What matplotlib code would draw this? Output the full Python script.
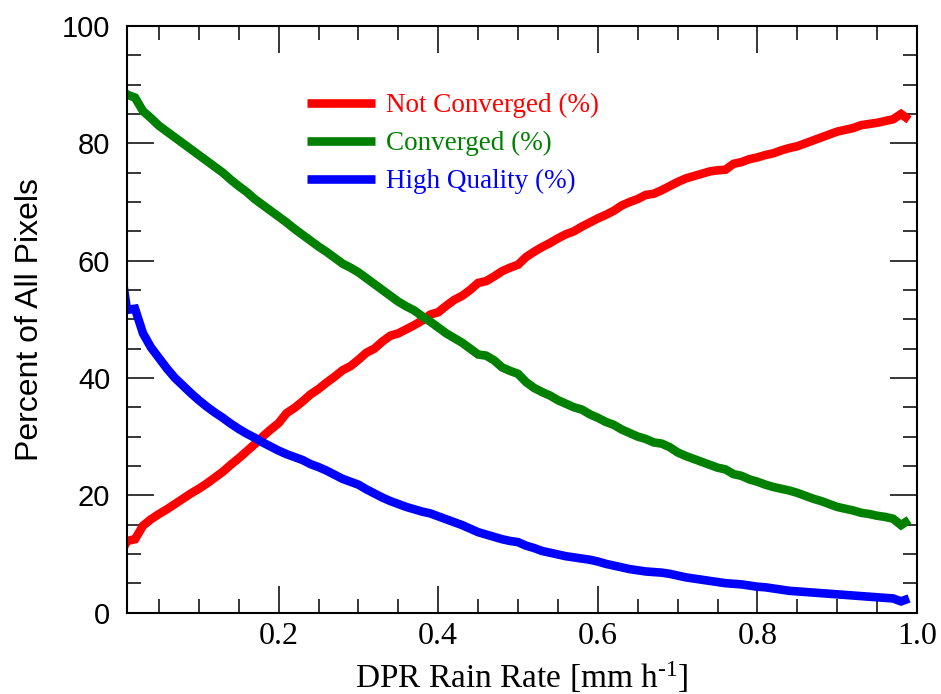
import matplotlib
matplotlib.use("Agg")
import matplotlib.pyplot as plt
from matplotlib.ticker import MultipleLocator

plt.rcParams["mathtext.fontset"] = "custom"
plt.rcParams["mathtext.rm"] = "Liberation Serif"
plt.rcParams["mathtext.it"] = "Liberation Serif:italic"

# DPR rain rate bins [mm/h]
rain_rate = [i / 100 for i in range(100)]

not_converged = [
    9.5, 12.2, 12.5, 14.8, 15.9, 16.8, 17.6, 18.5, 19.4, 20.3,
    21.1, 22.0, 23.0, 24.0, 25.2, 26.3, 27.5, 28.7, 30.0, 31.2,
    32.3, 34.0, 34.9, 36.0, 37.2, 38.1, 39.2, 40.2, 41.3, 42.0,
    43.1, 44.3, 45.0, 46.2, 47.2, 47.6, 48.3, 49.0, 49.8, 50.8,
    51.2, 52.3, 53.3, 54.0, 55.0, 56.2, 56.5, 57.3, 58.2, 58.8,
    59.3, 60.6, 61.5, 62.3, 63.0, 63.8, 64.5, 65.0, 65.8, 66.5,
    67.2, 67.8, 68.5, 69.4, 70.0, 70.5, 71.2, 71.4, 72.0, 72.7,
    73.4, 74.0, 74.4, 74.8, 75.2, 75.4, 75.5, 76.5, 76.8, 77.3,
    77.6, 78.0, 78.3, 78.8, 79.2, 79.5, 80.0, 80.5, 81.0, 81.5,
    82.0, 82.3, 82.6, 83.1, 83.3, 83.5, 83.8, 84.1, 85.0, 84.0,
]

converged = [
    89.6, 88.3, 87.8, 85.5, 84.3, 83.0, 82.0, 81.0, 80.0, 79.0,
    78.0, 77.0, 76.0, 75.0, 73.8, 72.7, 71.7, 70.5, 69.5, 68.5,
    67.5, 66.5, 65.4, 64.4, 63.4, 62.4, 61.5, 60.5, 59.5, 58.8,
    58.0, 57.0, 56.0, 55.0, 54.0, 53.0, 52.2, 51.5, 50.5, 49.6,
    48.6, 47.6, 46.8, 46.0, 45.0, 44.0, 43.8, 43.0, 41.8, 41.2,
    40.7, 39.3, 38.3, 37.6, 37.0, 36.2, 35.6, 35.0, 34.6, 33.8,
    33.2, 32.5, 32.0, 31.2, 30.6, 30.0, 29.6, 29.0, 28.8, 28.2,
    27.3, 26.7, 26.2, 25.7, 25.2, 24.7, 24.4, 23.6, 23.3, 22.7,
    22.3, 21.8, 21.4, 21.1, 20.8, 20.4, 19.9, 19.4, 19.0, 18.5,
    18.0, 17.7, 17.4, 17.0, 16.8, 16.5, 16.3, 16.0, 14.9, 15.8,
]

high_quality = [
    61.0, 51.6, 51.8, 47.6, 45.2, 43.4, 41.6, 40.0, 38.7, 37.4,
    36.2, 35.1, 34.1, 33.2, 32.2, 31.3, 30.5, 29.8, 29.0, 28.3,
    27.6, 27.0, 26.5, 26.0, 25.3, 24.8, 24.2, 23.5, 22.8, 22.3,
    21.8, 21.0, 20.3, 19.6, 19.0, 18.5, 18.0, 17.6, 17.2, 16.9,
    16.4, 15.9, 15.4, 14.9, 14.3, 13.7, 13.3, 12.9, 12.5, 12.2,
    12.0, 11.4, 11.0, 10.5, 10.2, 9.9, 9.6, 9.4, 9.2, 9.0,
    8.7, 8.3, 8.0, 7.7, 7.4, 7.2, 7.0, 6.9, 6.8, 6.6,
    6.3, 6.0, 5.8, 5.6, 5.4, 5.2, 5.0, 4.9, 4.8, 4.6,
    4.4, 4.3, 4.1, 3.9, 3.7, 3.6, 3.5, 3.4, 3.3, 3.2,
    3.1, 3.0, 2.9, 2.8, 2.7, 2.6, 2.5, 2.4, 1.9, 2.4,
]

labels = ["Not Converged (%)", "Converged (%)", "High Quality (%)"]
colors = ["#ff0000", "#008000", "#0000ff"]

fig = plt.figure(figsize=(9.41, 6.94), dpi=100)
ax = fig.add_axes([0.135, 0.1174, 0.8395, 0.8451])

for y, lab, c in zip([not_converged, converged, high_quality], labels, colors):
    ax.plot(rain_rate, y, color=c, lw=6.2, label=lab,
            solid_joinstyle="miter", solid_capstyle="butt")

ax.set_xlim(0.01, 1.0)
ax.set_ylim(0, 100)
ax.xaxis.set_major_locator(MultipleLocator(0.2))
ax.xaxis.set_minor_locator(MultipleLocator(0.05))
ax.yaxis.set_major_locator(MultipleLocator(20))
ax.yaxis.set_minor_locator(MultipleLocator(5))
ax.set_xticks([0.2, 0.4, 0.6, 0.8, 1.0])
ax.set_xticklabels(["0.2", "0.4", "0.6", "0.8", "1.0"])

ax.tick_params(which="both", direction="in", top=True, right=True, width=1.1, color="black")
ax.tick_params(which="major", length=19.5)
ax.tick_params(which="minor", length=10)
ax.tick_params(axis="y", which="major", pad=12)
ax.tick_params(axis="x", which="major", pad=7)
for s in ax.spines.values():
    s.set_linewidth(1.5)

for t in ax.get_yticklabels():
    t.set_fontfamily("Liberation Sans")
    t.set_fontsize(21)
for t in ax.get_xticklabels():
    t.set_fontfamily("Liberation Serif")
    t.set_fontsize(23)

ax.set_ylabel("Percent of All Pixels", family="Liberation Sans", fontsize=23, labelpad=12)
ax.set_xlabel(r"DPR Rain Rate [mm h$^{\text{-1}}$]", family="Liberation Serif", fontsize=24, labelpad=6)

leg = ax.legend(loc="upper left", bbox_to_anchor=(0.228, 0.886), frameon=False,
                borderpad=0, borderaxespad=0, handlelength=2.5, handletextpad=0.42,
                labelspacing=0.48, labelcolor="linecolor",
                prop={"family": "Liberation Serif", "size": 19.5})

fig.savefig("out.png", dpi=100)
